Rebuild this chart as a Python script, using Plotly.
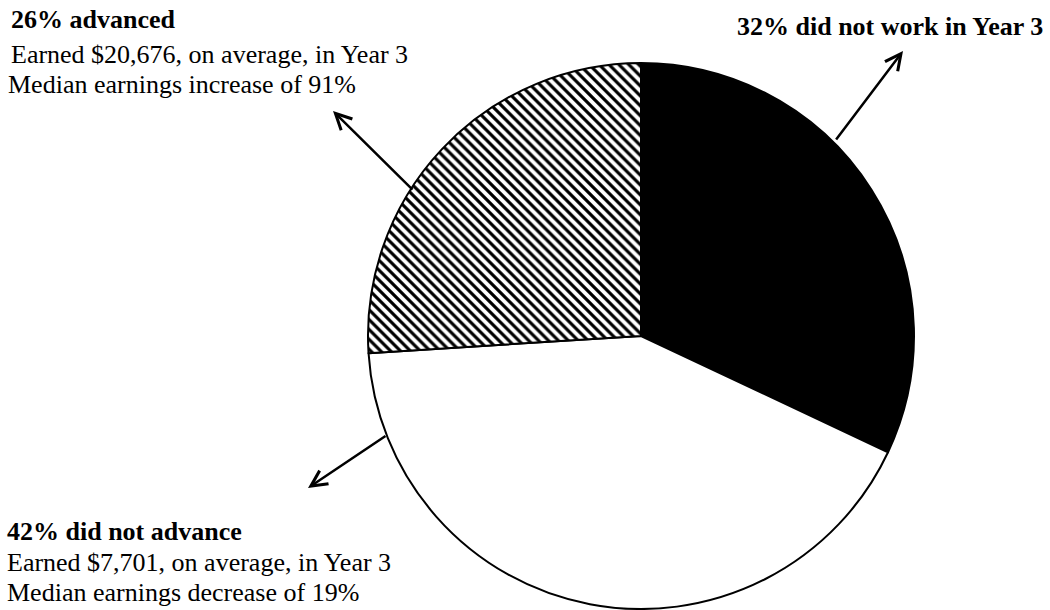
import plotly.graph_objects as go

# Year-3 outcomes (percent of group)
groups = ["did not work in Year 3", "did not advance", "advanced"]
shares = [32, 42, 26]
slice_colors = ["black", "white", "white"]
slice_patterns = ["", "", "\\"]

avg_earnings = {"advanced": "$20,676", "did not advance": "$7,701"}
median_change = {"advanced": "increase of 91%", "did not advance": "decrease of 19%"}

W, H = 1050, 610
FONT = "Liberation Serif, Times New Roman, serif"
FS = 26

# pie geometry in pixels
cx, cy, r = 641, 336, 273

fig = go.Figure(
    go.Pie(
        labels=groups,
        values=shares,
        sort=False,
        direction="clockwise",
        rotation=0,
        textinfo="none",
        hoverinfo="label+percent",
        marker=dict(
            colors=slice_colors,
            line=dict(color="black", width=2),
            pattern=dict(shape=slice_patterns, fgcolor="black", bgcolor="white",
                         size=7, solidity=0.45),
        ),
        domain=dict(x=[(cx - r) / W, (cx + r) / W],
                    y=[(H - cy - r) / H, (H - cy + r) / H]),
    )
)


def px(x):
    return x / W


def py(y):
    return (H - y) / H


annotations = []


def line_text(text, x, baseline, anchor="left", bold=False):
    # centre of the text box sits about 0.34 em above the baseline
    annotations.append(dict(
        text=f"<b>{text}</b>" if bold else text,
        x=px(x), y=py(baseline - 0.338 * FS),
        xref="paper", yref="paper",
        xanchor=anchor, yanchor="middle",
        showarrow=False,
        font=dict(family=FONT, size=FS, color="black"),
    ))


def arrow(head, tail):
    annotations.append(dict(
        text="", x=px(head[0]), y=py(head[1]),
        xref="paper", yref="paper",
        ax=tail[0] - head[0], ay=tail[1] - head[1],
        showarrow=True, arrowhead=5, arrowsize=1.25, arrowwidth=2.5,
        arrowcolor="black", standoff=0, startstandoff=0,
    ))


# top-left block
line_text(f"{shares[2]}% {groups[2]}", 9, 28.7, bold=True)
line_text(f"Earned {avg_earnings['advanced']}, on average, in Year 3", 9, 62.8)
line_text(f"Median earnings {median_change['advanced']}", 6, 92.8)

# bottom-left block
line_text(f"{shares[1]}% {groups[1]}", 5, 540.5, bold=True)
line_text(f"Earned {avg_earnings['did not advance']}, on average, in Year 3", 5, 571.7)
line_text(f"Median earnings {median_change['did not advance']}", 5, 601.7)

# top-right label
line_text(f"{shares[0]}% {groups[0]}", 1045, 35, anchor="right", bold=True)

arrow((903, 51), (835, 141))
arrow((333, 111), (414, 191))
arrow((308, 488), (387, 435))

fig.update_layout(
    width=W, height=H,
    margin=dict(l=0, r=0, t=0, b=0),
    paper_bgcolor="white", plot_bgcolor="white",
    showlegend=False,
    annotations=annotations,
)

fig.write_html("out.html")
